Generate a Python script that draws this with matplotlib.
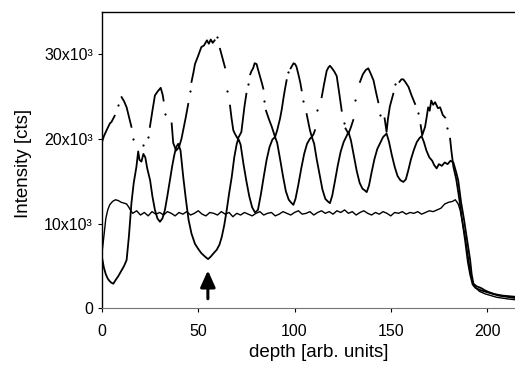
import numpy as np
import matplotlib
matplotlib.use("Agg")
from matplotlib import pyplot as plt

plt.rcParams["font.family"] = ["Liberation Sans", "DejaVu Sans"]

nan = np.nan

# lower oscillating profile
a_x = [0, 1, 2, 3, 4, 5, 5.9, 7, 8.5, 10, 11.5, 12.8, 14, 15.3, 16.5, 17.9, 18.8, 19.5, 20.5, 21.5,
       22.5, 23.5, 25, 26.2, 27.5, 28.8, 30.1, 31.4, 32.7, 34, 35.3, 36.5, 37.5, 38.5, 39.6, 40.8,
       42.2, 43.6, 45, 46.5, 48.3, 50, 51.6, 53.5, 55.1, 56.5, 58, 59.6, 61, 62.2, 63.5, 64.8, 66,
       67.4, 68.7, 70, 70.8, 72, 73.5, 75, 76.5, 78, 79.5, 81, 82.5, 84, 85.5, 87, 88.5, 89.9, 91,
       92.5, 94, 95.5, 97, 98.5, 99.4, 100.5, 102, 103.5, 105, 106.5, 108, 109, 110.2, 111.5, 113,
       114.5, 116, 117.3, 118.4, 119.6, 121, 122.5, 124, 125.5, 127, 128, 129.3, 130.8, 132.3,
       133.8, 135.3, 136.5, 137.5, 138.7, 140, 141.5, 143, 144.5, 146, 147.8, 149, 150.5, 152,
       153.5, 155, 156.5, 157.8, 159, 160.5, 162, 163.5, 165, 166, 167.2, 168.5, 170, 171.5,
       172.5, 173.8, 175, 176.5, 178, 179.5, 181, 182.5, 184, 185, 186.5, 188, 188.6, 190, 191.2,
       192, 192.9, 194.5, 196.8, 199, 201, 203.5, 205.5, 208, 210.5, 213.6, 215]
a_y = [6.0, 4.8, 4.0, 3.5, 3.2, 3.0, 2.9, 3.3, 3.8, 4.4, 5.0, 5.7, 8.5, 12.4, 14.8, 16.7, 18.5, 17.5,
       17.3, 18.2, 17.8, 16.5, 15.1, 13.2, 11.6, 10.6, 10.2, 10.6, 11.6, 13.3, 15.1, 16.8, 18.0,
       19.0, 19.4, 18.6, 15.5, 12.8, 10.4, 8.8, 7.6, 7.0, 6.5, 6.1, 5.8, 6.1, 6.5, 6.9, 7.5, 8.4,
       9.8, 11.6, 13.5, 15.5, 17.8, 19.4, 20.0, 19.3, 17.0, 15.0, 13.2, 11.9, 11.3, 11.6, 13.4,
       15.5, 17.5, 19.0, 19.9, 20.2, 19.5, 17.6, 15.6, 13.8, 12.8, 12.4, 12.2, 12.9, 14.6, 16.5,
       18.2, 19.4, 20.0, 20.2, 19.4, 17.6, 15.8, 14.0, 12.9, 12.6, 12.4, 13.3, 15.0, 16.9, 18.5,
       19.6, 20.3, 20.8, 19.8, 18.0, 16.2, 14.8, 14.1, 13.9, 13.7, 14.5, 16.0, 17.6, 18.8, 19.5,
       20.2, 20.6, 19.7, 18.1, 16.7, 15.6, 15.1, 14.9, 15.2, 16.2, 17.6, 18.7, 19.6, 20.1, 20.3,
       19.6, 18.6, 17.8, 17.4, 16.9, 16.5, 17.0, 16.8, 17.2, 17.0, 17.4, 17.2, 16.0, 15.1, 12.5,
       10.5, 9.6, 7.5, 5.7, 4.0, 2.9, 2.6, 2.4, 2.1, 1.9, 1.7, 1.6, 1.5, 1.45, 1.4, 1.35]

# upper profile, gaps where the recorded points thin out on steep flanks
b_x = [0, 1, 2.4, 4.1, 5, 6.6, nan, 8.3, nan, 10.2, 11.5, 12.8, 14, 15.3, nan, 16.0, nan, 21.4, nan,
       24.1, nan, 24.9, 26.2, 27.5, 29, 30.5, 31.5, 32, nan, 32.9, nan, 36.2, 37, 38.5, 40, 41.3,
       42.2, 43.5, 44.8, nan, 45.6, nan, 46.5, 47.5, 48.3, 50, 51.6, 53, 54.5, 55.5, 56.5, 57.5,
       58.5, nan, 59.6, nan, 61.3, 62.5, 63.9, nan, 64.8, nan, 66.5, 67.3, 68.2, 69, 70.5, 71.5,
       72.4, 73.2, 74, 75, nan, 75.8, nan, 77, 77.7, 78.5, 79.3, 80.3, 81, 82, 83, 83.8, nan, 84.4,
       nan, 85.2, 86.7, 88.2, 89.9, 91, 92.5, 93.4, 94.2, 95, 95.9, nan, 96.6, nan, 98, 99.5, 100.3,
       101, 102, 103, 103.7, nan, 104.6, nan, 106.3, 107.2, 108, 109, 110, 110.6, nan, 111.6, nan,
       114.1, 115.4, 116.7, 117.6, 118.4, 119.5, 120.7, 121.9, 123.2, 124.5, nan, 125.5, nan,
       126.5, 128, 129.2, 130.5, nan, 131.2, nan, 134, 135.5, 137, 138.3, 139.5, 141, 142.3, 143.5,
       nan, 144.5, nan, 146.8, 147.8, 148.5, 149.5, 151.3, nan, 152.4, nan, 154.5, 155.5, 156.5,
       157.5, 159.2, 160.8, 162.6, nan, 164, nan, 165.5, 166.3, 167.8, 168.6, 169.4, 170.2, 171,
       172, 173, 174.5, 175.6, 177, 178.2, nan, 179.3, nan, 180.8, 181.5, 182.5, 184, 185.5, 187,
       188.6, 190, 191.2, 192.5, 194, 197, 200, 203, 206, 209, 212, 215]
b_y = [19.6, 20.3, 21.0, 21.8, 22.0, 22.7, nan, 24.0, nan, 24.9, 24.4, 23.7, 22.6, 21.4, nan, 20.0,
       nan, 19.2, nan, 20.2, nan, 21.4, 23.3, 25.1, 25.6, 26.0, 25.2, 24.5, nan, 22.9, nan, 21.8,
       19.5, 18.6, 19.0, 20.0, 21.0, 22.5, 24.1, nan, 25.6, nan, 26.7, 27.8, 28.8, 29.8, 30.8, 31.0,
       31.6, 31.2, 31.7, 31.3, 31.6, nan, 32.0, nan, 30.6, 29.6, 28.4, nan, 25.6, nan, 23.9, 22.4,
       21.0, 20.6, 20.0, 20.4, 20.8, 22.3, 23.8, 25.3, nan, 26.5, nan, 27.6, 28.0, 28.3, 28.9, 28.8,
       28.2, 27.4, 26.6, 25.9, nan, 24.5, nan, 23.3, 22.3, 21.4, 20.2, 21.0, 22.4, 23.5, 24.7, 25.8,
       26.9, nan, 27.9, nan, 28.3, 28.9, 28.8, 28.5, 27.6, 26.6, 25.7, nan, 24.4, nan, 22.9, 21.9,
       21.0, 20.2, 20.6, 21.0, nan, 23.4, nan, 24.9, 26.5, 28.0, 28.4, 28.6, 28.3, 27.9, 27.4, 25.4,
       23.3, nan, 21.8, nan, 21.2, 20.6, 21.3, 22.2, nan, 24.6, nan, 26.7, 27.6, 28.1, 28.3, 27.7,
       26.9, 25.5, 24.3, nan, 22.8, nan, 22.4, 20.8, 22.3, 23.8, 25.3, nan, 26.5, nan, 26.7, 27.0,
       27.0, 26.7, 26.1, 25.1, 24.1, nan, 23.0, nan, 21.6, 20.4, 21.4, 22.5, 23.7, 23.3, 24.5, 24.0,
       24.3, 23.6, 23.7, 22.8, 22.5, nan, 21.3, nan, 20.0, 18.5, 16.7, 15.2, 13.0, 10.5, 8.0, 5.5,
       4.0, 2.8, 2.4, 2.1, 1.9, 1.7, 1.5, 1.4, 1.3, 1.2]

# flat reference profile
c_head_x = [0, 1, 2, 3, 4, 5.5, 7, 8.5, 10, 11.5, 12.8, 14, 15]
c_head_y = [6.5, 8.5, 10.6, 11.6, 12.2, 12.6, 12.8, 12.7, 12.5, 12.4, 12.3, 11.9, 11.5]
c_flat_y = [11.2, 11.5, 11.0, 11.3, 10.9, 11.4, 11.1, 11.3, 11.0, 11.4,
            11.2, 10.9, 11.3, 11.1, 11.4, 11.0, 11.2, 11.5, 11.1, 10.9,
            11.3, 11.2, 11.0, 11.4, 11.1, 11.3, 10.8, 11.2, 11.0, 11.3,
            11.1, 10.9, 11.2, 11.4, 11.0, 11.2, 11.3, 10.9, 11.1, 11.4,
            11.2, 11.0, 11.3, 11.5, 11.1, 11.2, 11.4, 11.0, 11.3, 11.5,
            11.2, 11.4, 11.1, 11.5, 11.3, 11.6, 11.2, 11.4, 11.0, 11.3,
            11.5, 11.2, 11.0, 11.3, 11.1, 11.4, 11.2, 10.9, 11.3, 11.2,
            11.4, 11.1, 11.3, 11.2, 11.4, 11.1, 11.3, 11.5, 11.4, 11.6,
            11.8]
c_tail_x = [178, 180, 182, 183.5, 185, 186, 187.5, 188.6, 190, 191.2, 192.5, 193.8, 196, 199, 202,
            205, 208, 211, 215]
c_tail_y = [12.3, 12.5, 12.6, 12.8, 12.3, 11.6, 9.8, 8.4, 6.3, 4.5, 3.1, 2.5, 2.0, 1.7, 1.5, 1.3,
            1.2, 1.1, 1.0]

y_ticks = [0, 10, 20, 30]
y_labels = ["0", "10x10\u00b3", "20x10\u00b3", "30x10\u00b3"]
x_ticks = [0, 50, 100, 150, 200]
arrow_x = 55


def as_counts(vals):
    return np.array(vals, dtype=float) * 1000


c_x = c_head_x + list(range(16, 178, 2)) + c_tail_x
c_y = c_head_y + c_flat_y + c_tail_y

fig = plt.figure(figsize=(5.15, 3.71), dpi=100)
ax = fig.add_axes([0.198, 0.169, 0.802, 0.8])

ax.plot(a_x, as_counts(a_y), color="black", lw=1.3)
ax.plot(c_x, as_counts(c_y), color="black", lw=1.0)

bx = np.array(b_x)
by = as_counts(b_y)
ax.plot(bx, by, color="black", lw=1.3)
# lone points between gaps get a dot
lone = []
for i in range(len(bx)):
    if np.isnan(bx[i]):
        continue
    left = i == 0 or np.isnan(bx[i - 1])
    right = i == len(bx) - 1 or np.isnan(bx[i + 1])
    if left and right:
        lone.append(i)
ax.plot(bx[lone], by[lone], "o", color="black", ms=1.6, mew=0)

ax.annotate("", xy=(arrow_x, 4800), xytext=(arrow_x, 800),
            arrowprops=dict(arrowstyle="-|>,head_width=0.45,head_length=1.0",
                            color="black", lw=2.2))

ax.set_xlim(0, 214.5)
ax.set_ylim(0, 35000)
ax.set_xticks(x_ticks)
ax.set_yticks(as_counts(y_ticks))
ax.set_yticklabels(y_labels)
ax.tick_params(direction="out", length=3, width=0.8, labelsize=11.5, colors="black")
ax.tick_params(axis="x", pad=8)
ax.spines["right"].set_visible(False)
ax.spines["bottom"].set_color("0.45")
ax.spines["top"].set_linewidth(1.0)
ax.spines["left"].set_linewidth(1.0)

ax.set_xlabel("depth [arb. units]", fontsize=13.5)
ax.set_ylabel("Intensity [cts]", fontsize=13.5)
ax.xaxis.set_label_coords(0.525, -0.12)
ax.yaxis.set_label_coords(-0.17, 0.488)

fig.savefig("out.png", dpi=100)
